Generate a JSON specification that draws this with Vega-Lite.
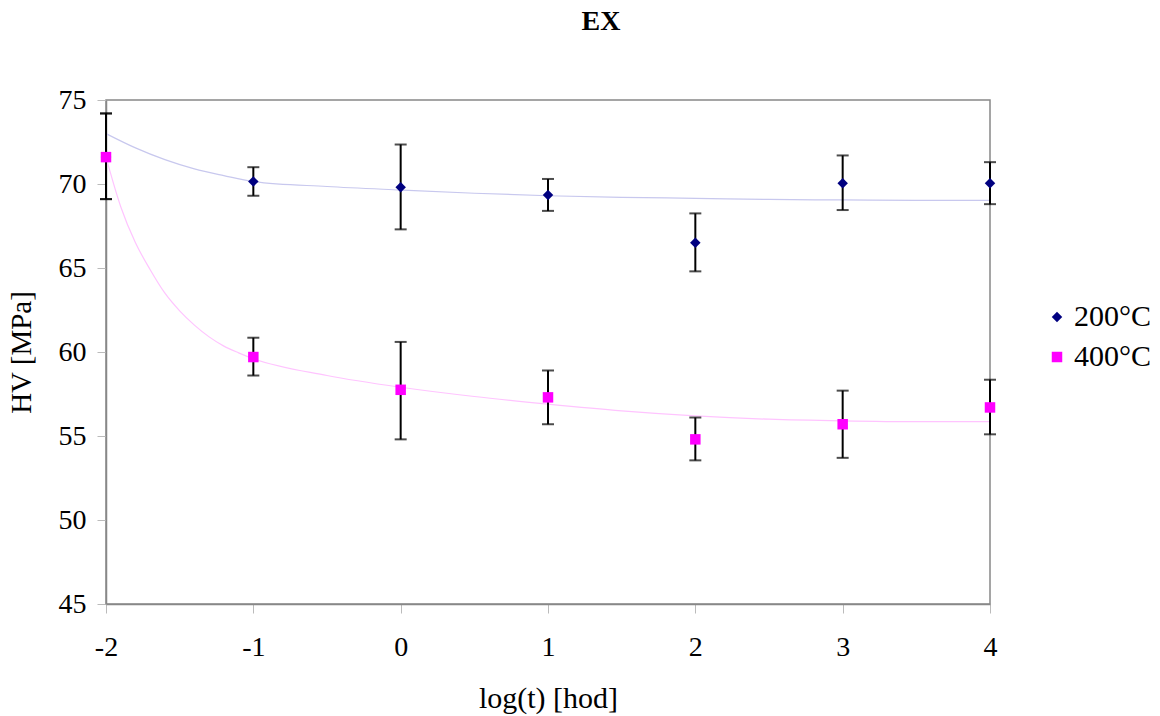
{
  "$schema": "https://vega.github.io/schema/vega-lite/v6.json",
  "width": 884,
  "height": 504,
  "autosize": {"type": "none"},
  "padding": {"left": 106, "top": 100, "right": 170, "bottom": 112},
  "background": "white",
  "config": {
    "font": "Liberation Serif",
    "view": {"stroke": "#888888", "strokeWidth": 1.5},
    "axis": {"grid": false, "labelFlush": false, "labelFont": "Liberation Serif", "titleFont": "Liberation Serif", "labelColor": "black", "titleColor": "black", "titleFontWeight": "normal", "domainColor": "#888888", "domainWidth": 1.5, "tickColor": "#bbbbbb"}
  },
  "title": {"text": "EX", "font": "Liberation Serif", "fontSize": 28, "fontWeight": "bold", "offset": 50, "dx": 53, "anchor": "middle"},
  "datasets": {
    "points": [
      {"series": "200°C", "x": -2, "hv": 71.6, "lo": 69.1, "hi": 74.2},
      {"series": "200°C", "x": -1, "hv": 70.15, "lo": 69.3, "hi": 71.0},
      {"series": "200°C", "x": 0, "hv": 69.8, "lo": 67.3, "hi": 72.35},
      {"series": "200°C", "x": 1, "hv": 69.35, "lo": 68.4, "hi": 70.3},
      {"series": "200°C", "x": 2, "hv": 66.5, "lo": 64.8, "hi": 68.25},
      {"series": "200°C", "x": 3, "hv": 70.05, "lo": 68.45, "hi": 71.7},
      {"series": "200°C", "x": 4, "hv": 70.05, "lo": 68.8, "hi": 71.3},
      {"series": "400°C", "x": -2, "hv": 71.6, "lo": 69.1, "hi": 74.2},
      {"series": "400°C", "x": -1, "hv": 59.7, "lo": 58.6, "hi": 60.85},
      {"series": "400°C", "x": 0, "hv": 57.75, "lo": 54.8, "hi": 60.6},
      {"series": "400°C", "x": 1, "hv": 57.3, "lo": 55.7, "hi": 58.9},
      {"series": "400°C", "x": 2, "hv": 54.8, "lo": 53.55, "hi": 56.1},
      {"series": "400°C", "x": 3, "hv": 55.7, "lo": 53.7, "hi": 57.7},
      {"series": "400°C", "x": 4, "hv": 56.7, "lo": 55.1, "hi": 58.35}
    ],
    "trend": [
      {"series": "200°C", "x": -2, "hv": 73.0},
      {"series": "200°C", "x": -1.8, "hv": 72.15},
      {"series": "200°C", "x": -1.6, "hv": 71.45},
      {"series": "200°C", "x": -1.4, "hv": 70.9},
      {"series": "200°C", "x": -1.2, "hv": 70.5},
      {"series": "200°C", "x": -1, "hv": 70.15},
      {"series": "200°C", "x": -0.5, "hv": 69.85},
      {"series": "200°C", "x": 0, "hv": 69.64},
      {"series": "200°C", "x": 0.5, "hv": 69.45},
      {"series": "200°C", "x": 1, "hv": 69.3},
      {"series": "200°C", "x": 1.5, "hv": 69.2},
      {"series": "200°C", "x": 2, "hv": 69.15},
      {"series": "200°C", "x": 2.5, "hv": 69.08},
      {"series": "200°C", "x": 3, "hv": 69.05},
      {"series": "200°C", "x": 3.5, "hv": 69.03},
      {"series": "200°C", "x": 4, "hv": 69.03},
      {"series": "400°C", "x": -2, "hv": 71.6},
      {"series": "400°C", "x": -1.9, "hv": 68.65},
      {"series": "400°C", "x": -1.8, "hv": 66.5},
      {"series": "400°C", "x": -1.7, "hv": 64.9},
      {"series": "400°C", "x": -1.6, "hv": 63.5},
      {"series": "400°C", "x": -1.5, "hv": 62.45},
      {"series": "400°C", "x": -1.4, "hv": 61.6},
      {"series": "400°C", "x": -1.3, "hv": 60.9},
      {"series": "400°C", "x": -1.2, "hv": 60.35},
      {"series": "400°C", "x": -1.1, "hv": 59.95},
      {"series": "400°C", "x": -1, "hv": 59.6},
      {"series": "400°C", "x": -0.5, "hv": 58.6},
      {"series": "400°C", "x": 0, "hv": 57.9},
      {"series": "400°C", "x": 0.5, "hv": 57.35},
      {"series": "400°C", "x": 1, "hv": 56.9},
      {"series": "400°C", "x": 1.5, "hv": 56.5},
      {"series": "400°C", "x": 2, "hv": 56.2},
      {"series": "400°C", "x": 2.5, "hv": 56.0},
      {"series": "400°C", "x": 3, "hv": 55.9},
      {"series": "400°C", "x": 3.5, "hv": 55.85},
      {"series": "400°C", "x": 4, "hv": 55.85}
    ]
  },
  "layer": [
    {
      "data": {"name": "trend"},
      "transform": [{"filter": "datum.series === '200°C'"}],
      "mark": {"type": "line", "interpolate": "monotone", "stroke": "#c8c8ee", "strokeWidth": 1.2},
      "encoding": {
        "x": {"field": "x", "type": "quantitative", "title": "log(t) [hod]", "scale": {"domain": [-2, 4], "nice": false},
          "axis": {"values": [-2, -1, 0, 1, 2, 3, 4], "labelExpr": "'' + datum.value", "labelFontSize": 28, "titleFontSize": 30, "tickSize": 9, "labelPadding": 20, "titlePadding": 22}},
        "y": {"field": "hv", "type": "quantitative", "title": "HV [MPa]", "scale": {"domain": [45, 75], "nice": false, "zero": false},
          "axis": {"values": [45, 50, 55, 60, 65, 70, 75], "labelFontSize": 28, "titleFontSize": 29, "tickSize": 9, "labelPadding": 11, "titlePadding": 22}}
      }
    },
    {
      "data": {"name": "trend"},
      "transform": [{"filter": "datum.series === '400°C'"}],
      "mark": {"type": "line", "interpolate": "monotone", "stroke": "#ffc4ff", "strokeWidth": 1.2},
      "encoding": {
        "x": {"field": "x", "type": "quantitative", "title": "log(t) [hod]"},
        "y": {"field": "hv", "type": "quantitative", "title": "HV [MPa]"}
      }
    },
    {
      "data": {"name": "points"},
      "mark": {"type": "errorbar", "ticks": {"size": 12, "thickness": 2, "color": "black"}, "rule": {"strokeWidth": 2, "color": "black"}},
      "encoding": {
        "x": {"field": "x", "type": "quantitative", "title": "log(t) [hod]"},
        "y": {"field": "lo", "type": "quantitative", "title": "HV [MPa]"},
        "y2": {"field": "hi"}
      }
    },
    {
      "data": {"name": "points"},
      "mark": {"type": "point", "filled": true, "opacity": 1, "size": 110},
      "encoding": {
        "x": {"field": "x", "type": "quantitative", "title": "log(t) [hod]"},
        "y": {"field": "hv", "type": "quantitative", "title": "HV [MPa]"},
        "color": {"field": "series", "type": "nominal", "scale": {"domain": ["200°C", "400°C"], "range": ["#000080", "#ff00ff"]},
          "legend": {"title": null, "orient": "none", "legendX": 936, "legendY": 202, "labelFontSize": 30, "labelFont": "Liberation Serif", "labelColor": "black", "rowPadding": 10, "symbolSize": 110, "labelOffset": 2}},
        "shape": {"field": "series", "type": "nominal", "scale": {"domain": ["200°C", "400°C"], "range": ["diamond", "square"]}},
        "order": {"field": "series", "type": "nominal"}
      }
    }
  ]
}
